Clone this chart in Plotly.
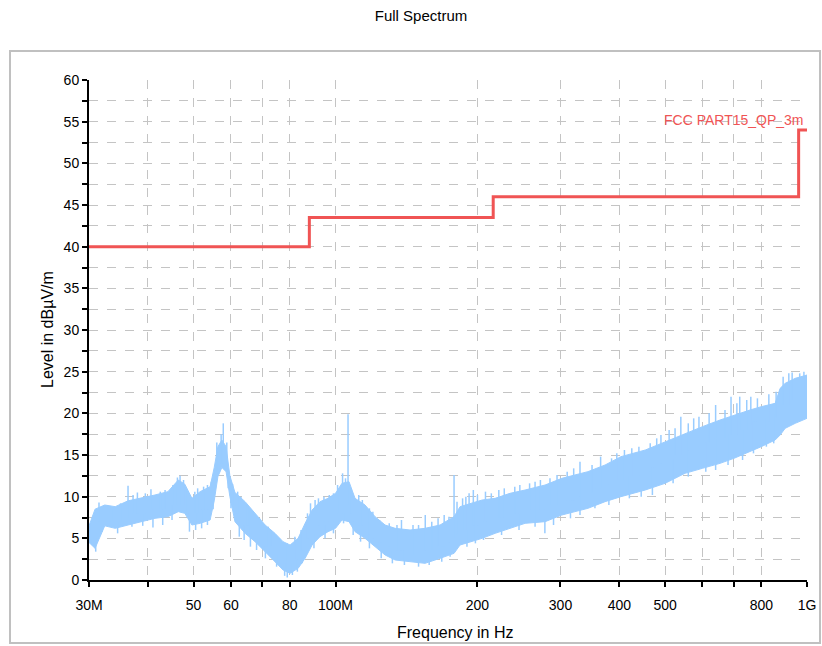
import math
import plotly.graph_objects as go

# spectrum envelope (MHz, dBuV/m)
freq_mhz = [30, 30.9, 32.4, 34.1, 36.3, 38.5, 41.4, 44.1, 46.4, 47.9, 49.6, 51.6, 54.2, 55.3,
            56.3, 57.4, 58.6, 59.7, 61.2, 64.3, 67.5, 70.9, 74.4, 77.4, 80.1, 83.3, 86.2,
            89.2, 92.7, 96.4, 100, 103.2, 106.8, 110, 115.5, 121.3, 127.4, 133.8, 143.9,
            154.8, 166.6, 178.4, 183.7, 194.8, 204.6, 218, 234.5, 252.4, 278.3, 302, 343,
            373, 403, 454, 500, 551, 600, 654, 700, 757, 800, 856, 877, 899, 944, 1000]
level_lo = [4.5, 3.8, 6.5, 6.2, 6.6, 7.0, 7.4, 7.6, 8.2, 8.0, 6.6, 6.8, 7.2, 9.5,
            12.4, 13.5, 13.0, 10.0, 7.0, 5.6, 4.6, 3.4, 2.2, 1.2, 0.8, 1.4, 2.6,
            4.2, 5.2, 5.8, 6.2, 7.2, 7.0, 5.8, 5.0, 4.0, 3.0, 2.4, 2.2,
            2.0, 2.6, 3.2, 4.2, 4.6, 5.0, 5.6, 6.2, 6.8, 7.0, 7.8, 8.6,
            9.4, 10.0, 10.8, 11.6, 12.8, 13.4, 14.0, 14.6, 15.4, 16.0, 16.8, 17.4, 18.2, 18.8, 19.4]
level_hi = [6.5, 8.5, 9.0, 8.8, 9.5, 9.8, 10.2, 10.6, 12.0, 11.5, 9.8, 10.6, 11.2, 13.5,
            16.0, 16.8, 16.0, 12.5, 10.5, 9.4, 8.0, 6.6, 5.6, 4.6, 4.2, 5.0, 6.8,
            8.4, 9.4, 9.8, 10.4, 11.6, 11.8, 9.8, 9.0, 7.6, 6.6, 6.2, 6.0,
            6.2, 6.6, 7.6, 8.8, 9.2, 9.6, 9.8, 10.4, 10.8, 11.4, 12.2, 13.0,
            13.8, 14.8, 15.6, 16.6, 17.6, 18.4, 19.2, 19.8, 20.4, 20.8, 21.2, 23.0, 23.6, 24.2, 24.6]

# single spikes above the band (MHz, from, to)
spike_mhz = [31.5, 32.8, 33.5, 35.0, 36.3, 37.2, 38.0, 39.5, 40.6, 42.5, 43.5, 45.2, 46.2,
             46.8, 47.6, 48.5, 50.3, 51.0, 52.5, 53.5, 54.5, 56.0, 57.2, 57.8, 58.8, 60.5,
             62, 63, 65, 66, 69, 72, 73, 76, 79, 82, 84.5, 87.2, 88.5, 90.5, 92, 94.5, 97,
             99, 101, 103.5, 105, 106.3, 108, 112, 114, 118, 120, 124, 130, 135, 138, 146,
             150, 155, 160, 165, 170, 174, 178.4, 181, 186, 189, 192, 196, 200, 208, 214,
             222, 228, 240, 246, 258, 265, 272, 285, 295, 310, 320, 330, 350, 365, 385, 395,
             410, 425, 440, 465, 480, 490, 510, 525, 540, 560, 575, 590, 620, 640, 670, 690,
             710, 720, 745, 760, 785, 830, 860, 890, 915, 930, 965, 985]
spike_base = [7, 7, 7, 7, 7.5, 8, 8, 8, 8.5, 8.5, 8.5, 9, 9,
              9, 9, 8, 8, 8, 8.5, 8.5, 9, 13, 14, 14, 13, 9,
              8, 7.5, 6.5, 6, 5, 4, 4, 3, 2, 2.5, 3.5, 5, 5.5, 6, 6.5, 7, 7,
              7.5, 8, 8.5, 8.5, 9, 8, 6.5, 6.5, 5.5, 5, 4.5, 4, 3.5, 3.5, 3,
              3, 3.5, 3.5, 4, 4, 4.5, 5, 5.5, 6, 6, 6, 6.5, 6.5, 7, 7,
              7.5, 7.5, 8, 8, 8.5, 8.5, 8.5, 9, 9, 9.5, 9.5, 10, 10.5, 11, 11.5, 12,
              12, 12.5, 12.5, 13, 13.5, 14, 14.5, 15, 15, 15.5, 16, 16, 16.5, 17, 17, 17.5,
              17.5, 18, 18, 18.5, 19, 19, 19.5, 21, 21, 21.5, 22, 22]
spike_top = [9.3, 9.0, 8.6, 9.2, 11.3, 10.2, 10.5, 10.4, 10.9, 10.6, 10.8, 11.4, 12.3,
             12.5, 12.0, 10.6, 10.6, 11.0, 11.2, 11.4, 11.8, 16.5, 17.5, 18.8, 16.5, 11.5,
             10.6, 10.0, 9.0, 8.4, 7.4, 6.4, 6.0, 5.0, 4.4, 5.2, 6.0, 8.0, 9.2, 9.6, 9.8, 10.0, 10.2,
             10.4, 11.4, 12.8, 12.2, 19.9, 11.0, 10.2, 9.6, 8.6, 8.2, 7.2, 6.8, 6.6, 7.2, 6.6,
             6.6, 7.8, 7.0, 7.4, 7.8, 7.6, 12.6, 9.4, 9.8, 10.0, 10.4, 10.8, 10.2, 10.6, 10.4,
             10.8, 11.0, 11.2, 11.4, 11.6, 11.8, 12.0, 12.2, 12.6, 13.0, 13.4, 14.2, 13.8, 14.8, 14.6, 15.2,
             15.6, 15.8, 16.0, 16.4, 17.0, 17.4, 18.0, 18.2, 19.6, 18.8, 19.4, 19.6, 20.0, 21.0, 20.4, 22.0,
             21.2, 22.0, 21.6, 22.0, 21.8, 22.3, 22.6, 24.4, 24.8, 24.9, 24.8, 25.0]

# single dips below the band (MHz, from, to)
dip_mhz = [30.5, 31.0, 32, 34.5, 37, 39, 41, 43, 45, 49, 50.5, 52, 53.5, 55, 59.2, 60, 62.5,
           64, 66, 68, 71, 75, 78, 79, 81, 83, 85, 90, 95, 99, 104, 109, 113, 118, 125, 132,
           140, 150, 158, 168, 175, 190, 198, 206, 225, 245, 265, 278, 290, 315, 330, 355,
           380, 420, 445, 470, 520, 560, 610, 640, 680, 730, 770, 820, 850]
dip_base = [5, 5, 7, 7, 8, 8, 8.5, 8.5, 9, 8, 8, 8.5, 8.5, 10, 12, 10, 7,
            6.5, 6, 5, 4, 3, 2, 2, 2, 2.5, 3.5, 5.5, 6.5, 7, 8, 7, 6.5, 5.5, 4.5, 3.5,
            3.5, 3.5, 3.5, 4, 4.5, 6, 6.5, 7, 7.5, 8, 8.5, 8.5, 9, 9.5, 10, 11,
            11.5, 12.5, 13, 13.5, 14.5, 15.5, 16.5, 17, 17.5, 18, 19, 19.5, 20]
dip_bottom = [4.2, 3.4, 5.8, 5.6, 6.4, 6.5, 6.3, 6.6, 7.2, 5.8, 6.0, 6.2, 6.6, 8.5, 11.0, 8.6, 5.2,
              4.8, 4.0, 3.6, 2.6, 1.6, 0.5, 0.3, 0.6, 1.0, 2.0, 3.8, 5.0, 5.6, 6.8, 5.4, 4.6, 3.8, 2.6, 2.0,
              1.8, 1.6, 1.8, 2.2, 2.8, 4.0, 4.4, 4.8, 5.4, 6.0, 6.4, 5.6, 6.6, 7.4, 7.8, 8.6,
              9.0, 9.8, 10.0, 10.2, 11.6, 12.4, 13.0, 13.2, 13.8, 14.4, 15.2, 16.0, 16.4]

# FCC part 15 QP 3 m limit
limit_mhz = [30, 88, 216, 960, 1000]
limit_db = [40, 43.5, 46, 54, 54]

xtick_mhz = [30, 40, 50, 60, 70, 80, 100, 200, 300, 400, 500, 600, 700, 800, 1000]
xtick_text = ["30M", "", "50", "60", "", "80", "100M", "200", "300", "400", "500", "", "", "800", "1G"]
ytick_vals = [i * 2.5 for i in range(25)]
ytick_text = [str(int(v)) if v % 5 == 0 else "" for v in ytick_vals]

BLUE = "#99ccff"
RED = "#f05454"
FONT = "Liberation Sans, Arial, sans-serif"

hz = lambda arr: [f * 1e6 for f in arr]


def segs(xs, y0s, y1s):
    x, y = [], []
    for f, a, b in zip(xs, y0s, y1s):
        x += [f * 1e6, f * 1e6, None]
        y += [a, b, None]
    return x, y


fig = go.Figure()
fig.add_trace(go.Scatter(x=hz(freq_mhz), y=level_lo, mode="lines",
                         line=dict(color=BLUE, width=1), hoverinfo="skip", showlegend=False))
fig.add_trace(go.Scatter(x=hz(freq_mhz), y=level_hi, mode="lines", fill="tonexty",
                         fillcolor=BLUE, line=dict(color=BLUE, width=1), showlegend=False))
sx, sy = segs(spike_mhz, spike_base, spike_top)
fig.add_trace(go.Scatter(x=sx, y=sy, mode="lines", line=dict(color=BLUE, width=1.5),
                         hoverinfo="skip", showlegend=False))
dx, dy = segs(dip_mhz, dip_base, dip_bottom)
fig.add_trace(go.Scatter(x=dx, y=dy, mode="lines", line=dict(color=BLUE, width=1.5),
                         hoverinfo="skip", showlegend=False))
fig.add_trace(go.Scatter(x=hz(limit_mhz), y=limit_db, mode="lines", line_shape="hv",
                         line=dict(color=RED, width=3), name="FCC PART15_QP_3m", showlegend=False))

xrange = [math.log10(30e6), 9]
grid = dict(showgrid=True, gridcolor="#c4c4c4", griddash="dash", gridwidth=1)

fig.update_layout(
    width=822, height=646,
    margin=dict(l=89, r=15, t=80, b=66),
    paper_bgcolor="white", plot_bgcolor="white",
    font=dict(family=FONT, size=14, color="black"),
    title=dict(text="Full Spectrum", xref="container", x=421 / 822, xanchor="center",
               yref="container", y=1 - 16 / 646, yanchor="middle",
               font=dict(family=FONT, size=15, color="black")),
    xaxis=dict(type="log", range=xrange, tickvals=hz(xtick_mhz), ticktext=xtick_text,
               ticks="outside", ticklen=5, tickwidth=1.5, tickcolor="black",
               showline=True, linecolor="black", linewidth=2, zeroline=False,
               ticklabelstandoff=6, automargin=False, **grid),
    xaxis2=dict(type="log", range=xrange, overlaying="x", anchor="y", side="bottom",
                tickvals=hz(xtick_mhz), ticks="inside", ticklen=5, tickwidth=1.5,
                tickcolor="black", showticklabels=False, showgrid=False, showline=False,
                zeroline=False),
    yaxis=dict(range=[0, 60], tickvals=ytick_vals, ticktext=ytick_text,
               ticks="outside", ticklen=5, tickwidth=1.5, tickcolor="black",
               showline=True, linecolor="black", linewidth=2, zeroline=False,
               automargin=False, **grid),
    yaxis2=dict(range=[0, 60], overlaying="y", anchor="x", side="left",
                tickvals=ytick_vals, ticks="inside", ticklen=5, tickwidth=1.5,
                tickcolor="black", showticklabels=False, showgrid=False, showline=False,
                zeroline=False),
    shapes=[dict(type="rect", xref="paper", yref="paper",
                 x0=(10 - 89) / 718, x1=(820 - 89) / 718,
                 y0=(580 - 643) / 500, y1=(580 - 51) / 500,
                 line=dict(color="#c0c0c0", width=2), layer="below")],
    annotations=[
        dict(text="FCC PART15_QP_3m", xref="paper", x=1, xanchor="right", xshift=-1,
             yref="y", y=55.2, yanchor="middle", showarrow=False,
             font=dict(family=FONT, size=14, color=RED)),
        dict(text="Level in dBµV/m", xref="paper", x=0, xshift=-42, xanchor="center",
             yref="paper", y=0.5, yanchor="middle", textangle=-90, showarrow=False,
             font=dict(family=FONT, size=16, color="black")),
        dict(text="Frequency in Hz", xref="paper", x=(455 - 89) / 718, xanchor="center",
             yref="paper", y=0, yshift=-52, yanchor="middle", showarrow=False,
             font=dict(family=FONT, size=16, color="black")),
    ],
)

fig.write_html("out.html", config={"displayModeBar": False},
               post_script="document.body.style.margin='0';")
